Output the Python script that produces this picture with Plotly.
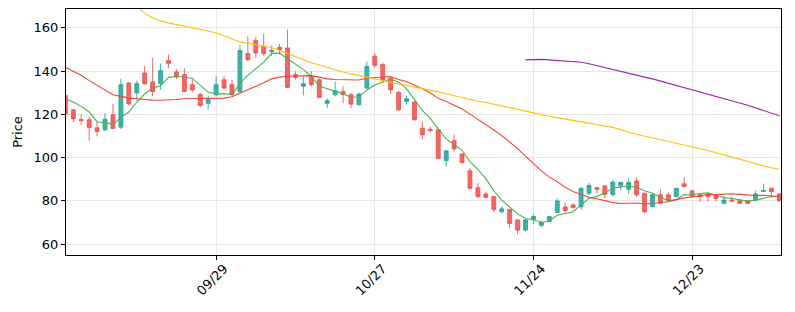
import plotly.graph_objects as go
import pandas as pd

# ---------------- data ----------------
opens = [128.8, 122.1, 117.6, 117.5, 113.8, 112.9, 119.8, 114.1, 134.5, 129.9,
         139.1, 135.0, 134.3, 144.9, 139.6, 138.4, 133.7, 129.2, 125.1, 129.1,
         136.0, 133.7, 130.6, 148.1, 154.1, 151.5, 149.0, 151.0, 150.7, 138.4,
         133.0, 137.6, 136.0, 125.1, 129.1, 130.6, 129.1, 124.5, 132.2, 146.9,
         143.0, 136.8, 130.2, 126.0, 125.7, 113.6, 113.1, 112.9, 98.6, 107.8,
         101.7, 93.9, 86.1, 83.2, 82.0, 75.0, 76.1, 71.2, 66.5, 71.5,
         68.7, 70.6, 74.6, 77.2, 78.1, 77.3, 83.5, 86.1, 87.0, 83.0,
         86.9, 85.4, 89.2, 83.5, 77.4, 82.8, 82.8, 82.0, 87.9, 84.6,
         82.8, 83.2, 82.3, 78.9, 80.4, 80.1, 80.1, 80.4, 84.4, 85.9, 83.2]
highs = [129.2, 122.5, 120.1, 119.0, 116.7, 120.6, 124.8, 136.5, 134.8, 135.6,
         142.4, 146.1, 143.5, 147.6, 141.0, 141.4, 136.1, 129.9, 128.6, 137.6,
         137.6, 136.0, 152.0, 156.1, 155.7, 157.2, 152.0, 152.6, 159.2, 139.9,
         137.6, 139.9, 136.8, 127.5, 135.3, 133.0, 129.9, 129.9, 144.5, 148.3,
         144.0, 137.6, 130.6, 128.6, 126.0, 116.7, 114.4, 113.2, 103.4, 110.6,
         102.0, 95.1, 88.2, 84.3, 82.2, 77.5, 76.3, 71.4, 71.9, 73.7,
         70.9, 73.0, 81.2, 79.2, 78.9, 86.3, 88.2, 86.3, 87.3, 89.7,
         88.9, 90.5, 90.9, 83.7, 83.2, 85.4, 83.9, 86.0, 90.9, 85.1,
         83.2, 83.5, 82.8, 82.3, 82.0, 80.4, 80.2, 84.8, 87.9, 86.0, 83.5]
lows = [119.5, 116.4, 115.2, 107.8, 109.8, 112.4, 113.2, 113.2, 124.1, 126.3,
        133.6, 128.3, 131.4, 141.4, 136.4, 130.3, 130.2, 123.2, 122.4, 128.3,
        131.4, 128.3, 129.9, 144.5, 146.1, 146.9, 146.9, 147.6, 132.2, 136.0,
        128.8, 132.9, 127.5, 122.9, 128.3, 125.2, 122.9, 124.1, 131.9, 141.7,
        134.5, 129.5, 121.8, 124.5, 117.2, 108.5, 111.6, 99.5, 95.9, 102.8,
        97.4, 85.4, 81.2, 81.2, 74.8, 74.3, 67.3, 64.5, 65.8, 69.4,
        67.8, 70.2, 74.4, 74.7, 76.6, 75.8, 82.8, 83.3, 81.2, 82.0,
        85.1, 83.2, 81.7, 74.3, 77.0, 78.6, 79.7, 81.7, 86.3, 81.7,
        79.7, 79.7, 79.7, 78.6, 79.2, 78.6, 78.4, 80.1, 84.3, 82.3, 79.8]
closes = [120.0, 118.0, 117.2, 114.0, 112.1, 117.8, 113.5, 133.7, 124.9, 134.2,
          134.2, 130.6, 140.2, 143.6, 137.3, 130.6, 131.3, 124.1, 126.8, 133.7,
          132.2, 129.1, 149.5, 145.3, 148.4, 148.1, 149.6, 149.9, 132.5, 137.1,
          134.2, 133.7, 127.9, 126.3, 130.9, 129.1, 124.8, 129.4, 142.2, 142.7,
          136.0, 131.4, 122.1, 127.2, 117.5, 110.6, 112.6, 99.7, 103.1, 104.1,
          97.7, 85.8, 82.0, 81.7, 76.1, 76.3, 69.6, 66.5, 71.2, 72.8,
          70.1, 72.7, 80.0, 75.5, 76.9, 85.8, 87.1, 85.4, 83.0, 88.7,
          88.5, 88.5, 82.8, 75.0, 82.8, 78.9, 80.4, 85.8, 86.6, 82.0,
          82.0, 82.0, 81.1, 80.4, 80.0, 78.9, 78.9, 83.2, 84.8, 84.3, 80.1]

ma5 = [127.2, 125.7, 123.7, 121.1, 116.5, 116.3, 115.3, 118.6, 121.1, 125.6,
       129.4, 132.2, 133.2, 137.1, 137.5, 137.3, 136.6, 133.5, 130.3, 129.4,
       129.6, 129.2, 134.3, 138.0, 140.9, 144.1, 148.2, 148.3, 145.7, 143.4,
       140.7, 137.5, 133.1, 131.8, 130.6, 129.6, 127.8, 128.1, 131.3, 133.6,
       135.0, 136.3, 134.9, 131.9, 126.8, 121.8, 118.0, 113.5, 108.7, 106.0,
       103.4, 98.1, 94.5, 90.3, 84.7, 80.4, 77.1, 74.0, 71.9, 71.3,
       70.0, 70.7, 73.4, 74.2, 75.0, 78.2, 81.1, 82.1, 83.6, 86.0,
       86.5, 86.8, 86.3, 84.7, 83.5, 81.6, 80.0, 80.6, 82.9, 82.7,
       83.4, 83.7, 82.7, 81.5, 81.1, 80.5, 79.9, 80.3, 81.2, 82.0, 82.3]
ma20 = [141.8, 139.9, 138.1, 135.6, 133.4, 131.4, 129.1, 128.3, 127.5, 127.2,
        126.8, 126.6, 126.5, 126.6, 126.9, 127.2, 127.2, 127.4, 127.4, 127.3,
        127.5, 128.1, 129.7, 131.2, 133.1, 134.6, 136.4, 137.2, 137.6, 137.7,
        137.7, 137.9, 137.2, 136.4, 136.1, 136.0, 135.7, 135.9, 136.7, 137.1,
        137.3, 137.5, 136.1, 135.2, 133.6, 131.8, 129.9, 127.4, 125.9, 124.3,
        122.5, 120.1, 117.8, 115.5, 112.8, 110.2, 107.4, 104.2, 100.7, 97.2,
        93.9, 91.0, 88.9, 86.3, 84.3, 83.0, 81.7, 81.0, 80.0, 79.2,
        78.8, 78.9, 79.0, 78.6, 79.0, 79.1, 79.6, 80.6, 81.4, 81.8,
        82.4, 82.9, 82.9, 83.2, 83.3, 83.0, 82.6, 82.5, 82.6, 82.3, 81.9]
ma60 = [196.0, 193.0, 190.0, 187.0, 184.0, 181.0, 178.0, 175.5, 173.0, 170.0,
        166.8, 164.5, 163.2, 162.3, 161.5, 160.8, 160.0, 159.2, 158.5, 157.7,
        156.3, 154.9, 153.5, 152.8, 152.1, 151.5, 150.8, 149.5, 148.1, 146.6,
        145.0, 143.9, 142.8, 141.7, 140.5, 139.6, 138.7, 137.9, 137.0, 136.3,
        135.5, 134.8, 134.0, 133.4, 132.7, 132.0, 131.2, 130.4, 129.5, 128.6,
        127.7, 126.8, 126.1, 125.5, 124.8, 124.1, 123.3, 122.4, 121.5, 120.6,
        119.8, 119.1, 118.5, 117.9, 117.2, 116.6, 116.0, 115.4, 114.8, 114.0,
        113.0, 111.6, 110.8, 110.0, 109.2, 108.4, 107.5, 106.7, 105.8, 104.9,
        104.2, 103.3, 102.3, 101.4, 100.4, 99.3, 98.2, 97.1, 96.2, 95.3, 94.6]
ma120 = [None] * 58 + [
        145.2, 145.4,
        145.4, 145.2, 145.0, 144.8, 144.5, 144.1, 143.4, 142.5, 141.5, 140.5,
        139.6, 138.8, 138.0, 137.2, 136.4, 135.4, 134.4, 133.4, 132.4, 131.4,
        130.4, 129.4, 128.4, 127.4, 126.4, 125.4, 124.2, 123.0, 121.8, 120.6, 119.4]

tick_labels = ["09/29", "10/27", "11/24", "12/23"]
y_ticks = [60, 80, 100, 120, 140, 160]

# trading days (US calendar) shown on the chart
days = pd.bdate_range("2025-09-02", "2026-01-09")
days = [d for d in days if d.strftime("%Y-%m-%d") not in ("2025-11-27", "2025-12-25", "2026-01-01")]
date_labels = [d.strftime("%m/%d") for d in days]
x = list(range(len(date_labels)))
tick_vals = [date_labels.index(t) for t in tick_labels]

UP = "rgba(38,166,154,0.88)"
DOWN = "rgba(239,83,80,0.88)"

fig = go.Figure()
fig.add_trace(go.Candlestick(
    x=x, open=opens, high=highs, low=lows, close=closes,
    increasing=dict(line=dict(color=UP, width=1), fillcolor=UP),
    decreasing=dict(line=dict(color=DOWN, width=1), fillcolor=DOWN),
    whiskerwidth=0, showlegend=False, hoverinfo="skip"))

for vals, col in [(ma5, "#4caf50"), (ma20, "#f44336"), (ma60, "#ffc107"), (ma120, "#9c27b0")]:
    fig.add_trace(go.Scatter(x=x, y=vals, mode="lines",
                             line=dict(color=col, width=1.1),
                             showlegend=False, hoverinfo="skip"))

axis_common = dict(showline=True, linecolor="black", linewidth=1, mirror=True,
                   ticks="outside", ticklen=4, tickcolor="black",
                   showgrid=True, gridcolor="#e6e6e6", gridwidth=1, zeroline=False,
                   tickfont=dict(family="DejaVu Sans", size=13, color="black"))

fig.update_layout(
    width=795, height=312,
    margin=dict(l=66, r=14, t=9, b=57),
    paper_bgcolor="white", plot_bgcolor="white",
    font=dict(family="DejaVu Sans", size=13, color="black"),
    xaxis=dict(range=[0.08, 90.2], tickmode="array", tickvals=tick_vals,
               ticktext=tick_labels, tickangle=-45, ticklabelshift=8,
               ticklabelstandoff=-4,
               rangeslider=dict(visible=False), **axis_common),
    yaxis=dict(range=[55.0, 168.7], tickmode="array", tickvals=y_ticks,
               title=dict(text="Price", standoff=8, font=dict(size=13)),
               **axis_common),
)

fig.write_html("out.html")
